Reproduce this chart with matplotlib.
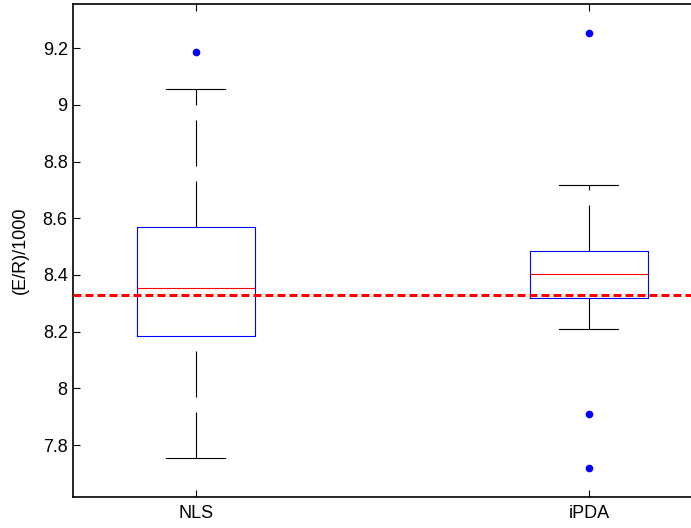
import matplotlib
matplotlib.use("Agg")
import matplotlib.pyplot as plt

plt.rcParams['font.family'] = ['Liberation Sans', 'DejaVu Sans']
plt.rcParams['lines.scale_dashes'] = False

categories = ["NLS", "iPDA"]
q1 = [8.186, 8.319]
median = [8.354, 8.403]
q3 = [8.569, 8.485]
whisker_low = [7.754, 8.210]
whisker_high = [9.056, 8.716]
outliers = [[9.186], [9.253, 7.908, 7.719]]
reference_value = 8.33
yticks = [7.8, 8.0, 8.2, 8.4, 8.6, 8.8, 9.0, 9.2]
ytick_labels = ["7.8", "8", "8.2", "8.4", "8.6", "8.8", "9", "9.2"]
ylabel = "(E/R)/1000"

stats = []
for i, name in enumerate(categories):
    stats.append(dict(label=name, q1=q1[i], med=median[i], q3=q3[i],
                      whislo=whisker_low[i], whishi=whisker_high[i],
                      fliers=outliers[i]))

W, H = 691, 528
fig = plt.figure(figsize=(W / 100, H / 100), dpi=100)
xlim = (0.688, 2.312)
left = 73.3 / W
width = (xlim[1] - xlim[0]) * 393 / W
bottom = (H - 496.7) / H
top = (H - 4) / H
ax = fig.add_axes([left, bottom, width, top - bottom])

px = 0.72  # points per pixel at 100 dpi
res = ax.bxp(stats, positions=[1, 2], widths=0.3, capwidths=0.15,
             boxprops=dict(color='blue', linewidth=0.8),
             medianprops=dict(color='red', linewidth=0.8),
             whiskerprops=dict(color='black', linewidth=0.8,
                               linestyle=(0, (46 * px, 15 * px))),
             capprops=dict(color='black', linewidth=0.8),
             flierprops=dict(marker='o', markersize=4.5, markerfacecolor='blue',
                             markeredgecolor='blue', linestyle='none'))
# draw whiskers from the low end upward
for ln in res['whiskers']:
    x, y = ln.get_data()
    if y[1] < y[0]:
        ln.set_data(x[::-1], y[::-1])

ax.axhline(reference_value, color='red', linewidth=2.2,
           linestyle=(0, (8 * px, 4 * px)), zorder=5)

ax.set_xlim(*xlim)
ax.set_ylim(7.6176, 9.356)
ax.set_yticks(yticks)
ax.set_yticklabels(ytick_labels)
ax.set_xticks([1, 2])
ax.set_xticklabels(categories)
ax.tick_params(direction='in', length=5, width=0.8, labelsize=13,
               top=True, right=True, color='black')
ax.tick_params(axis='y', pad=4)
ax.tick_params(axis='x', pad=6)
ax.set_ylabel(ylabel, fontsize=13, labelpad=10)
for s in ax.spines.values():
    s.set_linewidth(1.2)

fig.savefig("out.png", dpi=100)
